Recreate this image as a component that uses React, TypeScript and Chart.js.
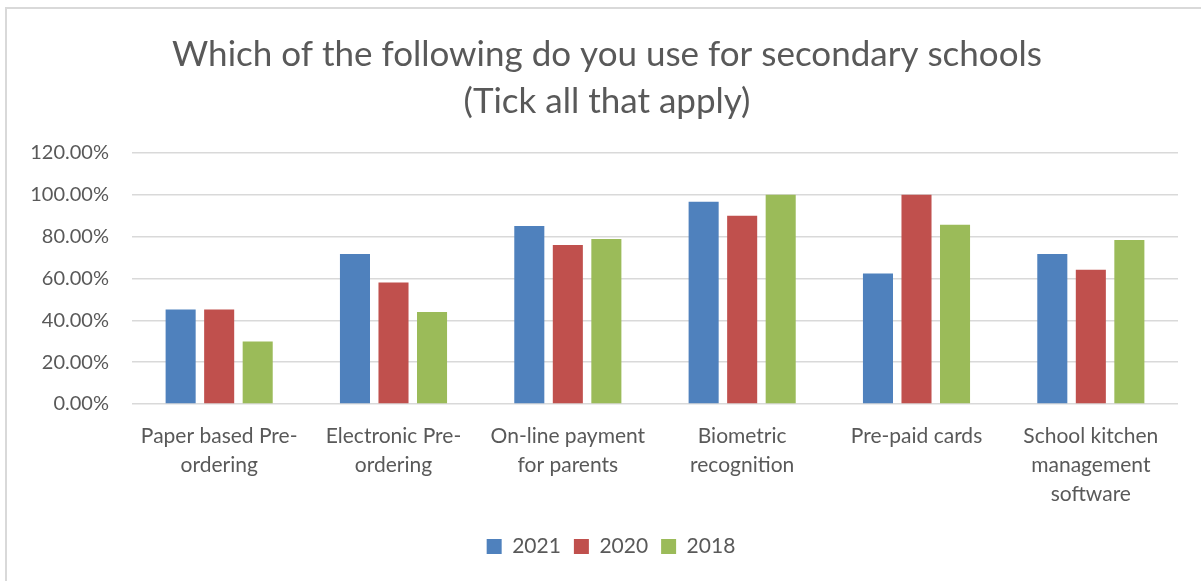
import React, { useEffect, useRef } from "react";
import { Chart, registerables } from "chart.js";

Chart.register(...registerables);

const categories: string[][] = [
  ["Paper based Pre-", "ordering"],
  ["Electronic Pre-", "ordering"],
  ["On-line payment", "for parents"],
  ["Biometric", "recognition"],
  ["Pre-paid cards"],
  ["School kitchen", "management", "software"],
];

const series2021 = [0.452, 0.717, 0.851, 0.967, 0.624, 0.717];
const series2020 = [0.452, 0.581, 0.76, 0.9, 1.0, 0.642];
const series2018 = [0.299, 0.44, 0.789, 1.0, 0.857, 0.784];

const seriesLabels = ["2021", "2020", "2018"];
const seriesColors = ["#4F81BD", "#C0504D", "#9BBB59"];

const titleLines = [
  "Which of the following do you use for secondary schools",
  "(Tick all that apply)",
];

const FONT = "Lato, 'Open Sans', sans-serif";
const TEXT = "#595959";

// shifts the centred title and legend boxes slightly right, as in the reference
const shiftBoxes = {
  id: "shiftBoxes",
  afterLayout(chart: any) {
    const l = chart.legend;
    if (l) {
      l.left += 22;
      l.right += 22;
    }
    const t = chart.titleBlock;
    if (t) {
      t.left += 18;
      t.right += 18;
    }
  },
};

export default function App() {
  const ref = useRef<HTMLCanvasElement | null>(null);

  useEffect(() => {
    if (!ref.current) return;
    const values = [series2021, series2020, series2018];
    const chart = new Chart(ref.current, {
      type: "bar",
      data: {
        labels: categories,
        datasets: seriesLabels.map((label, i) => ({
          label,
          data: values[i],
          backgroundColor: seriesColors[i],
          borderWidth: 0,
          categoryPercentage: 0.663,
          barPercentage: 0.78,
        })),
      },
      plugins: [shiftBoxes],
      options: {
        animation: false,
        responsive: false,
        maintainAspectRatio: false,
        layout: { padding: { left: 0, right: 23, top: 0, bottom: 14 } },
        plugins: {
          title: {
            display: true,
            text: titleLines,
            color: TEXT,
            font: { family: FONT, size: 35, weight: "normal", lineHeight: 1.343 },
            padding: { top: 31, bottom: 28 },
          },
          legend: {
            position: "bottom",
            labels: {
              color: TEXT,
              font: { family: FONT, size: 21 },
              boxWidth: 15,
              boxHeight: 15,
              padding: 13,
            },
          },
          tooltip: { enabled: false },
        },
        scales: {
          x: {
            grid: { display: false, drawTicks: false },
            border: { display: false },
            ticks: {
              color: TEXT,
              font: { family: FONT, size: 21, lineHeight: 1.37 },
              padding: 18,
              maxRotation: 0,
              autoSkip: false,
            },
            afterFit: (scale: any) => {
              scale.height = 119;
            },
          },
          y: {
            min: 0,
            max: 1.2,
            grid: { color: "#d9d9d9", lineWidth: 1.5, drawTicks: false },
            border: { display: false },
            ticks: {
              stepSize: 0.2,
              color: TEXT,
              font: { family: FONT, size: 20 },
              padding: 23,
              callback: (v: any) => (Number(v) * 100).toFixed(2) + "%",
            },
            afterFit: (scale: any) => {
              scale.width = 132;
            },
          },
        },
      },
    });
    return () => chart.destroy();
  }, []);

  return (
    <div style={{ position: "fixed", left: 0, top: 0, width: 1201, height: 581, background: "#fff" }}>
      <canvas ref={ref} width={1201} height={581} style={{ position: "absolute", left: 0, top: 0 }} />
      <div style={{ position: "absolute", left: 5, top: 7, width: 1196, height: 2, background: "#d9d9d9" }} />
      <div style={{ position: "absolute", left: 5, top: 7, width: 2, height: 574, background: "#d9d9d9" }} />
    </div>
  );
}
